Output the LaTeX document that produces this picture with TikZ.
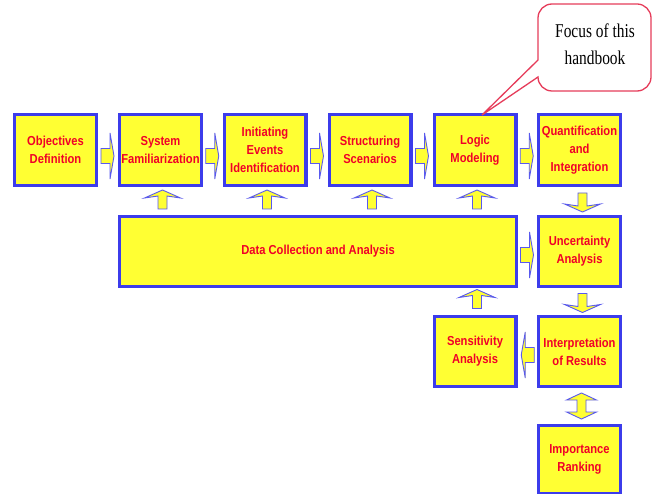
\documentclass[tikz,border=0pt]{standalone}
\usepackage{fontspec}
\usetikzlibrary{calc}
\newfontfamily\boxfont[FakeStretch=0.86]{Liberation Sans}
\newfontfamily\calloutfont[FakeStretch=0.79]{Liberation Serif}
\definecolor{boxblue}{RGB}{60,60,235}
\definecolor{boxyellow}{RGB}{255,255,51}
\definecolor{boxred}{RGB}{240,0,40}
\definecolor{calloutred}{RGB}{230,60,90}
\tikzset{
  box/.style={draw=boxblue, line width=3.2pt, fill=boxyellow, text=boxred,
    font=\boxfont\bfseries\fontsize{13}{18}\selectfont, align=center,
    minimum width=81.8pt, minimum height=70.8pt, inner sep=0pt},
  blockarrow/.style={fill=boxyellow, draw=boxblue!85, line width=0.9pt, line join=miter},
  pics/harrow/.style={code={\path[blockarrow] (-7,-7.5) -- (2,-7.5) -- (2,-23) -- (6,0) -- (2,23) -- (2,7.5) -- (-7,7.5) -- cycle;}},
  pics/varrow/.style={code={\path[blockarrow] (-4.5,8) -- (-4.5,-5) -- (-18,-3) -- (0,-11) -- (18,-3) -- (4.5,-5) -- (4.5,8) -- cycle;}},
  pics/darrow/.style={code={\path[blockarrow] (-4.5,-6) -- (-15,-6) -- (0,-13) -- (15,-6) -- (4.5,-6) -- (4.5,6) -- (15,6) -- (0,13) -- (-15,6) -- (-4.5,6) -- cycle;}},
  callout/.style={draw=calloutred, line width=1.3pt},
  callouttext/.style={font=\calloutfont\fontsize{19.5}{27}\selectfont, align=center, inner sep=0pt}
}
\begin{document}
\begin{tikzpicture}[x=1pt,y=-1pt]
\useasboundingbox (0,0) rectangle (652,494);
\fill[white] (0,0) rectangle (652,494);

% boxes
\node[box] (obj) at (55.5,150) {Objectives\\Definition};
\node[box] (sys) at (160.5,150) {System\\Familiarization};
\node[box] (ini) at (265,150) {Initiating\\Events\\Identification};
\node[box] (str) at (370,150) {Structuring\\Scenarios};
\node[box] (log) at (475,150) {Logic\\Modeling};
\node[box] (qua) at (579.5,150) {Quantification\\and\\Integration};
\node[box, minimum width=396.8pt, minimum height=69.8pt] (data) at (318,251.5) {Data Collection and Analysis};
\node[box, minimum height=69.8pt] (unc) at (579.5,251.5) {Uncertainty\\Analysis};
\node[box, minimum height=69.8pt] (sen) at (475,351.5) {Sensitivity\\Analysis};
\node[box, minimum height=69.8pt] (int) at (579.5,351.5) {Interpretation\\of Results};
\node[box, minimum height=68.3pt] (imp) at (579.5,459.75) {Importance\\Ranking};

% horizontal arrows
\pic at ($(obj.east)!0.5!(sys.west)+(0,6)$) {harrow};
\pic at ($(sys.east)!0.5!(ini.west)+(0,6)$) {harrow};
\pic at ($(ini.east)!0.5!(str.west)+(0,6)$) {harrow};
\pic at ($(str.east)!0.5!(log.west)+(0,6)$) {harrow};
\pic at ($(log.east)!0.5!(qua.west)+(0,6)$) {harrow};
\pic at ($(data.east)!0.5!(unc.west)+(0,3.5)$) {harrow};
\pic[rotate=180] at ($(int.west)!0.5!(sen.east)+(0,3.5)$) {harrow};

% vertical arrows
\pic at ($(sys.south)!0.5!(sys.south|-data.north)+(2,0)$) {varrow};
\pic at ($(ini.south)!0.5!(ini.south|-data.north)+(2,0)$) {varrow};
\pic at ($(str.south)!0.5!(str.south|-data.north)+(2,0)$) {varrow};
\pic at ($(log.south)!0.5!(log.south|-data.north)+(2,0)$) {varrow};
\pic at ($(sen.north)!0.5!(sen.north|-data.south)+(2,-1)$) {varrow};
\pic[rotate=180] at ($(qua.south)!0.5!(unc.north)+(3,0)$) {varrow};
\pic[rotate=180] at ($(unc.south)!0.5!(int.north)+(3,0)$) {varrow};
\pic at ($(int.south)!0.5!(imp.north)+(2,0)$) {darrow};

% callout
\coordinate (tip) at ($(log.north)+(7,2)$);
\node[callouttext] (focus) at (595,44) {Focus of this\\handbook};
\draw[callout] (538,60) [rounded corners=14pt] -- (538,4) -- (651,4) -- (651,91) -- (538,91) [sharp corners] -- (538,77) -- (tip) -- cycle;
\end{tikzpicture}
\end{document}
